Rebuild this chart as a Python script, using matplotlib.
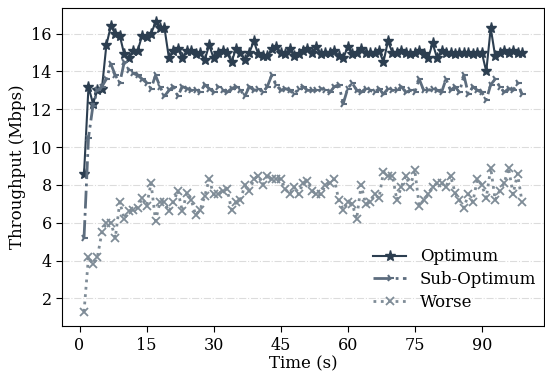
import matplotlib
matplotlib.use("Agg")
import matplotlib.pyplot as plt

plt.rcParams["font.family"] = "DejaVu Serif"

time = list(range(1, 100))

optimum = [8.6, 13.2, 12.3, 13.0, 13.1, 15.4, 16.4, 16.0, 15.9, 14.9,
           14.7, 15.1, 15.1, 15.9, 15.8, 16.0, 16.6, 16.3, 16.3, 14.7,
           15.1, 15.2, 14.7, 15.1, 15.1, 14.9, 15.0, 14.6, 15.4, 14.7,
           15.0, 15.1, 15.0, 14.5, 15.2, 15.0, 14.6, 15.0, 15.6, 14.9,
           14.8, 14.8, 15.2, 15.3, 15.0, 14.9, 15.2, 14.8, 14.9, 15.1,
           15.2, 15.0, 15.3, 14.9, 15.0, 15.0, 15.1, 14.8, 14.7, 15.3,
           14.9, 15.0, 15.2, 15.0, 15.0, 15.0, 15.1, 14.5, 15.6, 15.0,
           15.0, 15.1, 15.0, 14.9, 15.0, 15.1, 14.9, 14.7, 15.5, 14.7,
           15.1, 15.0, 15.0, 14.9, 15.0, 15.0, 15.0, 14.9, 15.0, 15.0,
           14.0, 16.3, 14.8, 15.0, 15.1, 15.0, 15.1, 15.0, 15.0]

sub_optimum = [5.2, 10.5, 12.2, 13.0, 13.2, 13.6, 14.4, 13.8, 13.4, 14.5,
               14.1, 13.9, 13.8, 13.6, 13.4, 13.1, 13.8, 13.2, 12.7, 13.0,
               13.2, 12.7, 13.2, 13.1, 13.0, 13.0, 12.9, 13.3, 13.1, 12.9,
               13.2, 13.0, 12.9, 13.1, 13.2, 13.0, 12.7, 13.2, 13.0, 13.1,
               12.9, 13.2, 13.8, 13.3, 13.0, 13.1, 13.0, 12.8, 13.1, 13.2,
               13.0, 13.0, 13.0, 13.1, 13.0, 12.9, 13.2, 13.3, 12.3, 13.1,
               13.4, 13.0, 12.9, 13.1, 13.0, 12.9, 13.1, 12.8, 13.1, 13.0,
               13.0, 13.2, 12.9, 13.0, 12.9, 13.6, 13.0, 13.0, 13.1, 13.0,
               12.9, 13.6, 13.0, 13.2, 12.9, 13.8, 12.8, 13.2, 13.0, 12.9,
               12.5, 13.3, 13.6, 13.2, 12.9, 13.1, 13.0, 13.4, 12.8]

worse = [1.3, 4.2, 3.8, 4.2, 5.5, 6.0, 6.0, 5.2, 7.1, 6.2,
         6.6, 6.7, 6.8, 7.3, 6.9, 8.1, 6.1, 7.1, 7.1, 6.6,
         7.1, 7.7, 6.6, 7.6, 7.2, 6.4, 6.7, 7.4, 8.3, 7.5,
         7.5, 7.7, 7.8, 6.7, 7.1, 7.2, 8.0, 7.7, 8.3, 8.5,
         8.0, 8.5, 8.3, 8.3, 8.3, 7.8, 7.5, 7.9, 7.5, 8.1,
         8.2, 7.7, 7.5, 7.5, 8.0, 8.1, 8.3, 7.2, 6.7, 7.1,
         7.0, 6.2, 8.0, 7.0, 7.1, 7.5, 7.3, 8.7, 8.5, 8.5,
         7.2, 7.9, 8.5, 7.9, 8.8, 6.9, 7.2, 7.5, 7.9, 8.1,
         8.1, 7.9, 8.5, 7.6, 7.2, 6.8, 7.5, 7.1, 8.3, 8.0,
         7.3, 8.9, 7.2, 7.7, 8.1, 8.9, 7.5, 8.6, 7.1]

fig = plt.figure(figsize=(5.45, 3.74), dpi=100)
ax = fig.add_axes([0.114, 0.128, 0.884, 0.851])

ax.plot(time, optimum, color="#2c3e50", linestyle="-", linewidth=1.5,
        marker="*", markersize=8, label="Optimum")
ax.plot(time, sub_optimum, color="#5d6d7e", linestyle="-.", linewidth=2,
        marker="4", markersize=5.5, markeredgewidth=1.5, label="Sub-Optimum")
ax.plot(time, worse, color="#7f8c97", linestyle=":", linewidth=2,
        marker="x", markersize=6, markeredgewidth=1.3, label="Worse")

ax.set_xticks([0, 15, 30, 45, 60, 75, 90])
ax.set_yticks([2, 4, 6, 8, 10, 12, 14, 16])
ax.tick_params(labelsize=11.5, length=4)
ax.grid(axis="y", color="#dcdcdc", linestyle="-.", linewidth=0.8)
ax.set_axisbelow(True)
ax.set_xlabel("Time (s)", fontsize=12, labelpad=1)
ax.set_ylabel("Throughput (Mbps)", fontsize=12)
ax.legend(loc="lower right", frameon=False, fontsize=12, labelspacing=0.35,
          bbox_to_anchor=(1.015, 0.0))

fig.savefig("out.png", dpi=100)
